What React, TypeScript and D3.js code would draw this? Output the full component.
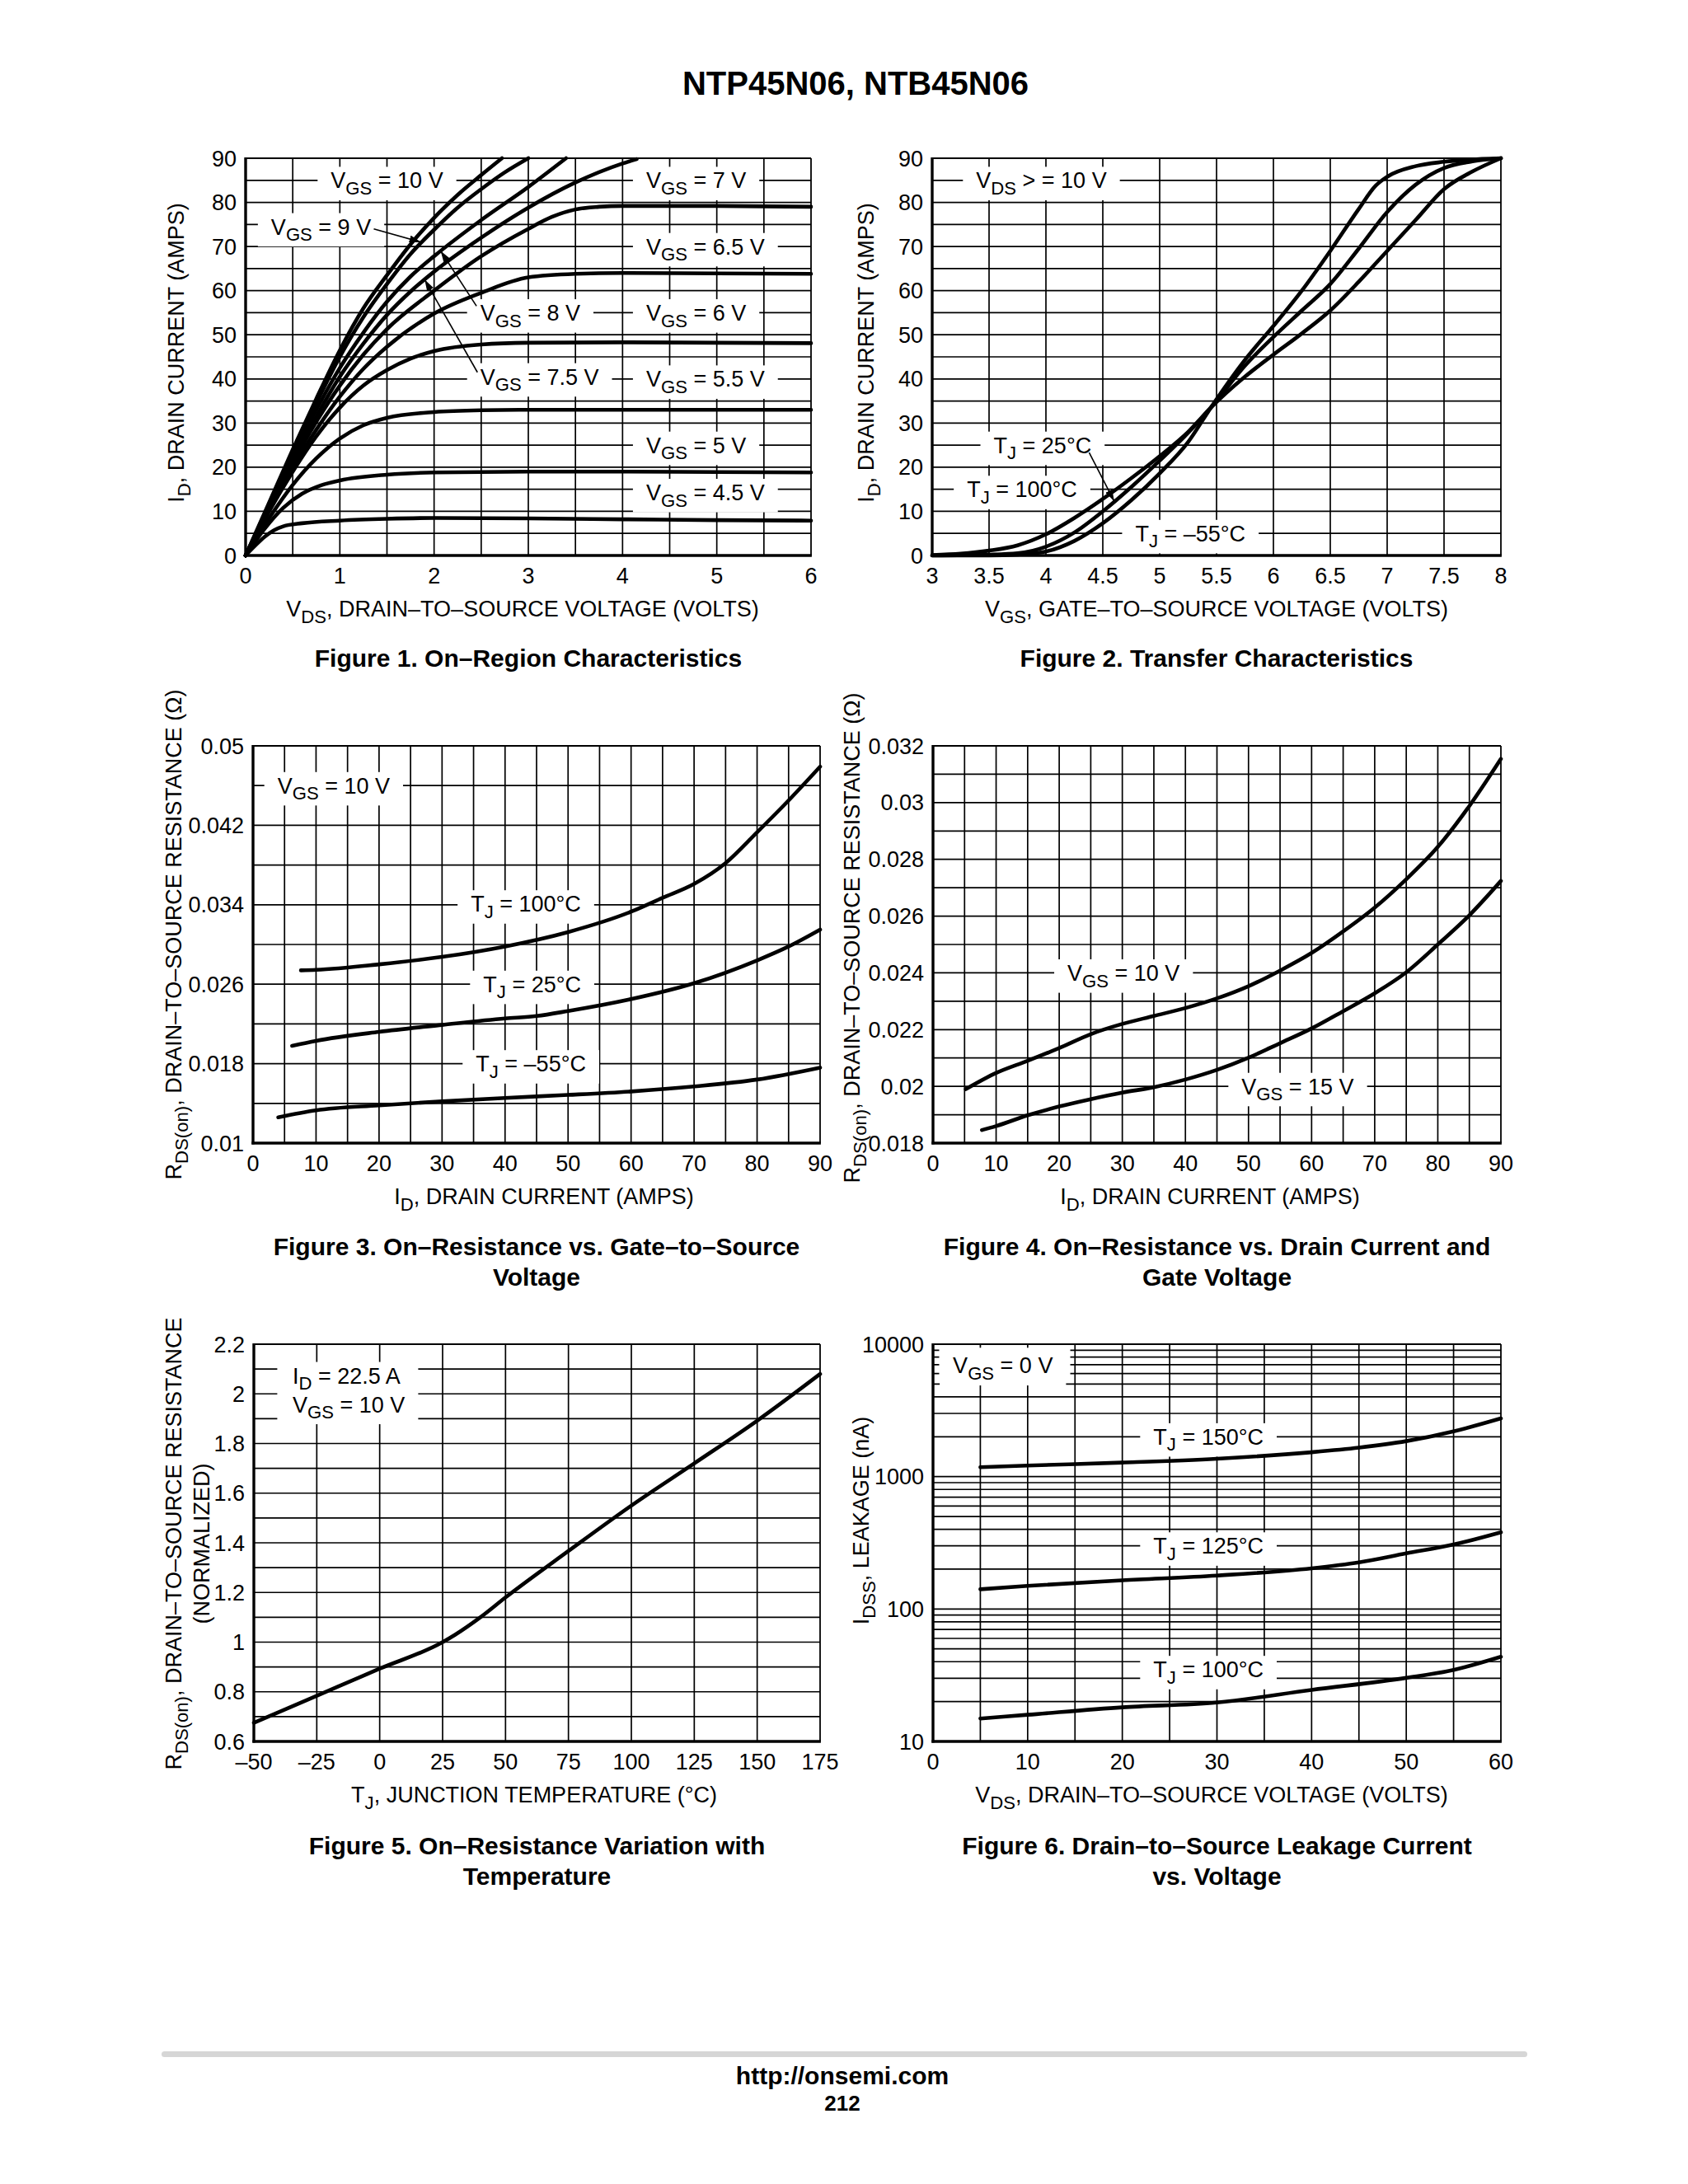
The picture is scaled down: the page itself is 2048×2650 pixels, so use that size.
import React, { useEffect, useRef } from 'react';
import * as d3 from 'd3';

type Pt = [number, number];

const FONT = "'Liberation Sans', Arial, Helvetica, sans-serif";
const FS = 27;

// ---------------- Figure 1: On-Region Characteristics ----------------
const fig1_10V: Pt[] = [[0,0],[0.25,12],[0.5,24],[0.75,35.5],[1,46.5],[1.25,56],[1.5,63.5],[1.75,70.5],[2,76.5],[2.25,81.7],[2.5,86.2],[2.72,90]];
const fig1_9V: Pt[] = [[0,0],[0.25,11.7],[0.5,23.3],[0.75,34.5],[1,45],[1.25,54],[1.5,61.5],[1.75,68.3],[2,73.8],[2.25,78.8],[2.5,83],[2.75,86.8],[3,90]];
const fig1_8V: Pt[] = [[0,0],[0.25,11.3],[0.5,22.5],[0.75,33],[1,42.5],[1.25,50.5],[1.5,57.5],[1.75,63.2],[2,67.8],[2.5,76],[3,83.5],[3.4,90]];
const fig1_75V: Pt[] = [[0,0],[0.25,11],[0.5,21.8],[0.75,31.5],[1,40.5],[1.25,48],[1.5,54.5],[1.75,59.8],[2,64.3],[2.5,72],[3,78.8],[3.5,84.5],[4,88.8],[4.15,89.8]];
const fig1_7V: Pt[] = [[0,0],[0.25,10.7],[0.5,21],[0.75,30.3],[1,38.5],[1.25,45.5],[1.5,51.3],[2,60],[2.5,67.8],[3,74],[3.25,76.7],[3.5,78.4],[3.75,79],[4,79.2],[5,79.2],[6,79]];
const fig1_65V: Pt[] = [[0,0],[0.25,10.2],[0.5,20],[0.75,28.5],[1,36],[1.25,42.3],[1.5,47.3],[2,54.8],[2.5,59.5],[3,63],[3.5,63.8],[4,64],[5,63.9],[6,63.8]];
const fig1_6V: Pt[] = [[0,0],[0.25,10],[0.5,19],[0.75,27],[1,33.5],[1.25,38.5],[1.5,42],[1.75,44.6],[2,46.3],[2.5,47.8],[3,48.2],[4,48.3],[5,48.2],[6,48.1]];
const fig1_55V: Pt[] = [[0,0],[0.25,8.5],[0.5,16],[0.75,22],[1,26.5],[1.25,29.5],[1.5,31.2],[2,32.5],[2.5,32.9],[3,33],[6,33]];
const fig1_5V: Pt[] = [[0,0],[0.2,6],[0.4,10.8],[0.6,14],[0.8,15.9],[1,17],[1.5,18.3],[2,18.8],[3,19],[4,19],[5,18.9],[6,18.8]];
const fig1_45V: Pt[] = [[0,0],[0.1,2.2],[0.2,4.2],[0.3,5.7],[0.4,6.6],[0.6,7.3],[1,7.9],[1.5,8.3],[2,8.5],[3,8.4],[4,8.2],[5,8.0],[6,7.9]];
const fig1XTicks = [0, 1, 2, 3, 4, 5, 6];
const fig1YTicks = [0, 10, 20, 30, 40, 50, 60, 70, 80, 90];

// ---------------- Figure 2: Transfer Characteristics ----------------
const fig2_n55: Pt[] = [[3,0],[3.5,0],[3.75,0.2],[4,0.9],[4.25,3.3],[4.5,7.3],[4.75,12.5],[5,18.6],[5.25,25.7],[5.45,33.5],[5.75,44.3],[6,52],[6.25,60],[6.5,69],[6.75,78.5],[6.9,83.8],[7,85.8],[7.25,88.2],[7.5,89.2],[8,90]];
const fig2_25: Pt[] = [[3,0],[3.5,0.2],[3.75,0.5],[4,2],[4.25,5.2],[4.5,10],[4.75,15.5],[5,21.5],[5.25,27.8],[5.45,33.5],[5.75,43],[6,49.5],[6.25,55.5],[6.5,61.5],[6.75,69.5],[7,77.8],[7.25,84],[7.5,87.8],[7.75,89.3],[8,90]];
const fig2_100: Pt[] = [[3,0.1],[3.25,0.4],[3.5,1.1],[3.75,2.3],[4,4.8],[4.25,8.5],[4.5,12.8],[4.75,17.5],[5,22.5],[5.25,28],[5.45,33.5],[5.75,40.5],[6,45.5],[6.25,50.3],[6.5,55.5],[6.75,62],[7,69],[7.25,76],[7.5,83],[7.75,87],[8,90]];
const fig2XTicks = [3, 3.5, 4, 4.5, 5, 5.5, 6, 6.5, 7, 7.5, 8];
const fig2YTicks = [0, 10, 20, 30, 40, 50, 60, 70, 80, 90];

// ---------------- Figure 3: On-Resistance vs. Drain Current (temps) ----------------
const fig3_100: Pt[] = [[7.6,0.0274],[10,0.02745],[20,0.028],[30,0.02875],[40,0.0298],[50,0.03125],[60,0.0333],[65,0.0347],[70,0.0361],[75,0.0382],[80,0.0413],[85,0.0445],[90,0.0479]];
const fig3_25: Pt[] = [[6.2,0.0198],[10,0.0203],[20,0.0212],[30,0.0219],[40,0.02255],[45,0.0228],[50,0.0233],[60,0.0245],[70,0.0261],[80,0.0284],[85,0.0298],[90,0.0315]];
const fig3_n55: Pt[] = [[4,0.0126],[10,0.0133],[20,0.0138],[30,0.0142],[40,0.01455],[50,0.01485],[60,0.0152],[70,0.0157],[80,0.0164],[90,0.0176]];
const fig3XTicks = [0, 10, 20, 30, 40, 50, 60, 70, 80, 90];
const fig3YTicks = [0.01, 0.018, 0.026, 0.034, 0.042, 0.05];

// ---------------- Figure 4: On-Resistance vs. Drain Current and Gate Voltage ----------------
const fig4_10V: Pt[] = [[5.2,0.0199],[10,0.02047],[15,0.0209],[20,0.02135],[25,0.02184],[30,0.0222],[35,0.02248],[40,0.02276],[45,0.0231],[50,0.02353],[55,0.02408],[60,0.0247],[65,0.02546],[70,0.0263],[75,0.0273],[80,0.02844],[85,0.02988],[90,0.03154]];
const fig4_15V: Pt[] = [[7.75,0.01846],[10,0.0186],[15,0.01898],[20,0.01929],[25,0.01955],[30,0.01978],[35,0.01997],[40,0.02024],[45,0.02058],[50,0.02101],[55,0.02152],[60,0.02204],[65,0.02265],[70,0.02328],[75,0.02402],[80,0.025],[85,0.02603],[90,0.02724]];
const fig4XTicks = [0, 10, 20, 30, 40, 50, 60, 70, 80, 90];
const fig4YTicks = [0.018, 0.02, 0.022, 0.024, 0.026, 0.028, 0.03, 0.032];

// ---------------- Figure 5: On-Resistance vs. Temperature ----------------
const fig5_rds: Pt[] = [[-50,0.675],[-25,0.784],[0,0.893],[25,1.0],[30,1.03],[40,1.1],[50,1.18],[75,1.367],[100,1.55],[125,1.72],[150,1.892],[175,2.08]];
const fig5XTicks = [-50, -25, 0, 25, 50, 75, 100, 125, 150, 175];
const fig5YTicks = [0.6, 0.8, 1, 1.2, 1.4, 1.6, 1.8, 2, 2.2];

// ---------------- Figure 6: Drain-to-Source Leakage Current ----------------
const fig6_150: Pt[] = [[5,1178],[10,1212],[20,1276],[30,1365],[40,1528],[45,1655],[50,1853],[55,2198],[60,2754]];
const fig6_125: Pt[] = [[5,141],[10,149.5],[20,164.7],[30,179],[40,203],[45,225],[50,263],[55,307],[60,380]];
const fig6_100: Pt[] = [[5,14.9],[10,15.9],[20,18.1],[30,19.7],[40,24.5],[50,30.2],[55,34.7],[60,43.6]];
const fig6XTicks = [0, 10, 20, 30, 40, 50, 60];
const fig6YTicks = [10, 100, 1000, 10000];

// ---------------- annotations (data coordinates) ----------------
type Lbl = { x: number; y: number; t: string; a?: 'start' | 'middle' | 'end' };
const fig1Labels: Lbl[] = [
  { x: 1.5, y: 85, t: 'V_{GS} = 10 V' },
  { x: 0.27, y: 74.5, t: 'V_{GS} = 9 V', a: 'start' },
  { x: 4.25, y: 85, t: 'V_{GS} = 7 V', a: 'start' },
  { x: 4.25, y: 70, t: 'V_{GS} = 6.5 V', a: 'start' },
  { x: 2.49, y: 55, t: 'V_{GS} = 8 V', a: 'start' },
  { x: 4.25, y: 55, t: 'V_{GS} = 6 V', a: 'start' },
  { x: 2.49, y: 40.5, t: 'V_{GS} = 7.5 V', a: 'start' },
  { x: 4.25, y: 40, t: 'V_{GS} = 5.5 V', a: 'start' },
  { x: 4.25, y: 25, t: 'V_{GS} = 5 V', a: 'start' },
  { x: 4.25, y: 14.3, t: 'V_{GS} = 4.5 V', a: 'start' },
];
const fig1Arrows: { f: Pt; to: Pt }[] = [
  { f: [1.36, 74], to: [1.86, 71] },
  { f: [2.45, 56.5], to: [2.07, 69] },
  { f: [2.46, 41.5], to: [1.9, 62.5] },
];
const fig2Labels: Lbl[] = [
  { x: 3.96, y: 85, t: 'V_{DS} > = 10 V' },
  { x: 3.97, y: 25, t: 'T_{J} = 25°C' },
  { x: 3.79, y: 15, t: 'T_{J} = 100°C' },
  { x: 5.27, y: 5, t: 'T_{J} = –55°C' },
];
const fig2Arrows: { f: Pt; to: Pt }[] = [{ f: [4.38, 23.3], to: [4.6, 12.3] }];
const fig3Labels: Lbl[] = [
  { x: 12.8, y: 0.046, t: 'V_{GS} = 10 V' },
  { x: 43.3, y: 0.0341, t: 'T_{J} = 100°C' },
  { x: 44.3, y: 0.026, t: 'T_{J} = 25°C' },
  { x: 44.1, y: 0.018, t: 'T_{J} = –55°C' },
];
const fig4Labels: Lbl[] = [
  { x: 30.2, y: 0.024, t: 'V_{GS} = 10 V' },
  { x: 57.8, y: 0.02, t: 'V_{GS} = 15 V' },
];
const fig5Labels: Lbl[] = [
  { x: -34.6, y: 2.074, t: 'I_{D} = 22.5 A', a: 'start' },
  { x: -34.6, y: 1.958, t: 'V_{GS} = 10 V', a: 'start' },
];
const fig6Labels: Lbl[] = [
  { x: 2.1, y: 6900, t: 'V_{GS} = 0 V', a: 'start' },
  { x: 29.1, y: 2000, t: 'T_{J} = 150°C' },
  { x: 29.1, y: 300, t: 'T_{J} = 125°C' },
  { x: 29.1, y: 35, t: 'T_{J} = 100°C' },
];

function rich(text: any, markup: string, fs: number) {
  const parts = markup.split(/(_\{[^}]*\})/).filter((s) => s.length);
  let shifted = false;
  const sh = fs * 0.28;
  parts.forEach((p) => {
    const m = p.match(/^_\{([^}]*)\}$/);
    if (m) {
      text.append('tspan').attr('font-size', fs * 0.82).attr('dy', shifted ? 0 : sh).text(m[1]);
      shifted = true;
    } else {
      text.append('tspan').attr('dy', shifted ? -sh : 0).text(p);
      shifted = false;
    }
  });
}

interface Cfg {
  x: any; y: any;
  xGrid: number[]; yGrid: number[];
  xTicks: number[]; yTicks: number[];
  xFmt: (v: number) => string; yFmt: (v: number) => string;
  curves: Pt[][];
  labels: Lbl[];
  arrows?: { f: Pt; to: Pt }[];
  boxes?: { x0: number; x1: number; y0: number; y1: number }[];
  labelPad?: number;
  xTitle: string; xTitleX: number;
  yTitles: { t: string; x: number }[]; yTitleCy: number;
  caption: string[]; captionY: number[];
}

function drawPanel(root: any, c: Cfg) {
  const g = root.append('g');
  const [L, R] = c.x.range();
  const [B, T] = c.y.range();
  const gGrid = g.append('g').attr('stroke', '#000').attr('stroke-width', 1.7);
  gGrid.selectAll('line.v').data(c.xGrid).join('line').attr('class', 'v')
    .attr('x1', (d: number) => c.x(d)).attr('x2', (d: number) => c.x(d)).attr('y1', B).attr('y2', T);
  gGrid.selectAll('line.h').data(c.yGrid).join('line').attr('class', 'h')
    .attr('y1', (d: number) => c.y(d)).attr('y2', (d: number) => c.y(d)).attr('x1', L).attr('x2', R);
  const gBox = g.append('g');
  const gFrame = g.append('g').attr('stroke', '#000');
  const gCurve = g.append('g');
  const gText = g.append('g').attr('font-family', FONT).attr('font-size', FS).attr('fill', '#000');

  (c.boxes || []).forEach((b) => {
    const x0 = c.x(b.x0), x1 = c.x(b.x1), y0 = c.y(b.y0), y1 = c.y(b.y1);
    gBox.append('rect').attr('x', Math.min(x0, x1)).attr('y', Math.min(y0, y1))
      .attr('width', Math.abs(x1 - x0)).attr('height', Math.abs(y1 - y0)).attr('fill', '#fff');
  });

  gFrame.append('line').attr('x1', L).attr('x2', R).attr('y1', T).attr('y2', T).attr('stroke-width', 1.8);
  gFrame.append('line').attr('x1', R).attr('x2', R).attr('y1', T).attr('y2', B).attr('stroke-width', 1.8);
  gFrame.append('line').attr('x1', L).attr('x2', L).attr('y1', T - 0.9).attr('y2', B + 1.6).attr('stroke-width', 3.4);
  gFrame.append('line').attr('x1', L - 1.7).attr('x2', R + 0.9).attr('y1', B).attr('y2', B).attr('stroke-width', 3.4);

  const line = d3.line<Pt>().x((d) => c.x(d[0])).y((d) => c.y(d[1])).curve(d3.curveMonotoneX);
  gCurve.selectAll('path').data(c.curves).join('path').attr('d', (d: Pt[]) => line(d))
    .attr('fill', 'none').attr('stroke', '#000').attr('stroke-width', 4.6)
    .attr('stroke-linejoin', 'round').attr('stroke-linecap', 'round');

  const pad = c.labelPad ?? 16;
  c.labels.forEach((l) => {
    const t = gText.append('text').attr('x', c.x(l.x)).attr('y', c.y(l.y) + 9.6)
      .attr('text-anchor', l.a || 'middle');
    rich(t, l.t, FS);
    const bb = (t.node() as SVGTextElement).getBBox();
    gBox.append('rect').attr('x', bb.x - pad).attr('y', bb.y - 2)
      .attr('width', bb.width + 2 * pad).attr('height', bb.height + 4).attr('fill', '#fff');
  });

  (c.arrows || []).forEach((a) => {
    gText.append('line').attr('x1', c.x(a.f[0])).attr('y1', c.y(a.f[1]))
      .attr('x2', c.x(a.to[0])).attr('y2', c.y(a.to[1]))
      .attr('stroke', '#000').attr('stroke-width', 1.6).attr('marker-end', 'url(#arrow)');
  });

  c.yTicks.forEach((v) => {
    gText.append('text').attr('x', L - 11).attr('y', c.y(v) + 9.6).attr('text-anchor', 'end').text(c.yFmt(v));
  });
  c.xTicks.forEach((v) => {
    gText.append('text').attr('x', c.x(v)).attr('y', B + 34).attr('text-anchor', 'middle').text(c.xFmt(v));
  });

  const xt = gText.append('text').attr('x', c.xTitleX).attr('y', B + 74).attr('text-anchor', 'middle');
  rich(xt, c.xTitle, FS);
  c.yTitles.forEach((yt) => {
    const t = gText.append('text').attr('text-anchor', 'middle')
      .attr('transform', `translate(${yt.x},${c.yTitleCy}) rotate(-90)`);
    rich(t, yt.t, FS);
  });

  const cx = (L + R) / 2;
  c.caption.forEach((s, i) => {
    gText.append('text').attr('x', cx).attr('y', c.captionY[i]).attr('text-anchor', 'middle')
      .attr('font-weight', 'bold').attr('font-size', 30).text(s);
  });
}

const num = (v: number) => String(v);
const dash = (v: number) => (v < 0 ? '–' + String(-v) : String(v));

function drawAll(svgEl: SVGSVGElement) {
  const svg = d3.select(svgEl);
  svg.selectAll('*').remove();
  svg.append('rect').attr('width', 2048).attr('height', 2650).attr('fill', '#fff');
  svg.append('defs').append('marker').attr('id', 'arrow').attr('viewBox', '0 0 14 9')
    .attr('refX', 14).attr('refY', 4.5).attr('markerWidth', 14).attr('markerHeight', 9)
    .attr('markerUnits', 'userSpaceOnUse').attr('orient', 'auto')
    .append('path').attr('d', 'M0,0 L14,4.5 L0,9 Z').attr('fill', '#000');

  svg.append('text').attr('x', 1038).attr('y', 115).attr('text-anchor', 'middle')
    .attr('font-family', FONT).attr('font-weight', 'bold').attr('font-size', 40)
    .text('NTP45N06, NTB45N06');

  // Figure 1
  drawPanel(svg, {
    x: d3.scaleLinear().domain([0, 6]).range([298, 984]),
    y: d3.scaleLinear().domain([0, 90]).range([674, 192]),
    xGrid: d3.range(0.5, 6, 0.5), yGrid: d3.range(5, 90, 5),
    xTicks: fig1XTicks, yTicks: fig1YTicks, xFmt: num, yFmt: num,
    curves: [fig1_10V, fig1_9V, fig1_8V, fig1_75V, fig1_7V, fig1_65V, fig1_6V, fig1_55V, fig1_5V, fig1_45V],
    labels: fig1Labels, arrows: fig1Arrows,
    xTitle: 'V_{DS}, DRAIN–TO–SOURCE VOLTAGE (VOLTS)', xTitleX: 634,
    yTitles: [{ t: 'I_{D}, DRAIN CURRENT (AMPS)', x: 223 }], yTitleCy: 428,
    caption: ['Figure 1. On–Region Characteristics'], captionY: [809],
  });

  // Figure 2
  drawPanel(svg, {
    x: d3.scaleLinear().domain([3, 8]).range([1131, 1821]),
    y: d3.scaleLinear().domain([0, 90]).range([674, 192]),
    xGrid: d3.range(3.5, 8, 0.5), yGrid: d3.range(5, 90, 5),
    xTicks: fig2XTicks, yTicks: fig2YTicks, xFmt: num, yFmt: num,
    curves: [fig2_n55, fig2_25, fig2_100],
    labels: fig2Labels, arrows: fig2Arrows,
    xTitle: 'V_{GS}, GATE–TO–SOURCE VOLTAGE (VOLTS)', xTitleX: 1476,
    yTitles: [{ t: 'I_{D}, DRAIN CURRENT (AMPS)', x: 1060 }], yTitleCy: 428,
    caption: ['Figure 2. Transfer Characteristics'], captionY: [809],
  });

  // Figure 3
  drawPanel(svg, {
    x: d3.scaleLinear().domain([0, 90]).range([307, 995]),
    y: d3.scaleLinear().domain([0.01, 0.05]).range([1387, 905]),
    xGrid: d3.range(5, 90, 5), yGrid: d3.range(1, 10).map((i) => 0.01 + i * 0.004),
    xTicks: fig3XTicks, yTicks: fig3YTicks, xFmt: num, yFmt: num,
    curves: [fig3_100, fig3_25, fig3_n55],
    labels: fig3Labels,
    xTitle: 'I_{D}, DRAIN CURRENT (AMPS)', xTitleX: 660,
    yTitles: [{ t: 'R_{DS(on)}, DRAIN–TO–SOURCE RESISTANCE (Ω)', x: 220 }], yTitleCy: 1134,
    caption: ['Figure 3. On–Resistance vs. Gate–to–Source', 'Voltage'], captionY: [1523, 1560],
  });

  // Figure 4
  drawPanel(svg, {
    x: d3.scaleLinear().domain([0, 90]).range([1132, 1821]),
    y: d3.scaleLinear().domain([0.018, 0.032]).range([1387, 905]),
    xGrid: d3.range(5, 90, 5), yGrid: d3.range(1, 14).map((i) => 0.018 + i * 0.001),
    xTicks: fig4XTicks, yTicks: fig4YTicks, xFmt: num, yFmt: num,
    curves: [fig4_10V, fig4_15V],
    labels: fig4Labels,
    xTitle: 'I_{D}, DRAIN CURRENT (AMPS)', xTitleX: 1468,
    yTitles: [{ t: 'R_{DS(on)}, DRAIN–TO–SOURCE RESISTANCE (Ω)', x: 1043 }], yTitleCy: 1138,
    caption: ['Figure 4. On–Resistance vs. Drain Current and', 'Gate Voltage'], captionY: [1523, 1560],
  });

  // Figure 5
  drawPanel(svg, {
    x: d3.scaleLinear().domain([-50, 175]).range([308, 995]),
    y: d3.scaleLinear().domain([0.6, 2.2]).range([2113, 1631]),
    xGrid: d3.range(-25, 175, 25), yGrid: d3.range(1, 16).map((i) => 0.6 + i * 0.1),
    xTicks: fig5XTicks, yTicks: fig5YTicks, xFmt: dash, yFmt: num,
    curves: [fig5_rds],
    labels: fig5Labels, labelPad: 0,
    boxes: [{ x0: -40.7, x1: 15.3, y0: 2.118, y1: 1.882 }],
    xTitle: 'T_{J}, JUNCTION TEMPERATURE (°C)', xTitleX: 648,
    yTitles: [
      { t: 'R_{DS(on)}, DRAIN–TO–SOURCE RESISTANCE', x: 220 },
      { t: '(NORMALIZED)', x: 254 },
    ], yTitleCy: 1873,
    caption: ['Figure 5. On–Resistance Variation with', 'Temperature'], captionY: [2250, 2287],
  });

  // Figure 6
  const logGrid: number[] = [];
  [10, 100, 1000].forEach((d) => { for (let k = 1; k < 10; k++) if (d * k > 10) logGrid.push(d * k); });
  drawPanel(svg, {
    x: d3.scaleLinear().domain([0, 60]).range([1132, 1821]),
    y: d3.scaleLog().domain([10, 10000]).range([2113, 1631]),
    xGrid: d3.range(5, 60, 5), yGrid: logGrid,
    xTicks: fig6XTicks, yTicks: fig6YTicks, xFmt: num, yFmt: num,
    curves: [fig6_150, fig6_125, fig6_100],
    labels: fig6Labels,
    boxes: [{ x0: 0.65, x1: 14.5, y0: 9400, y1: 5300 }],
    xTitle: 'V_{DS}, DRAIN–TO–SOURCE VOLTAGE (VOLTS)', xTitleX: 1470,
    yTitles: [{ t: 'I_{DSS}, LEAKAGE (nA)', x: 1054 }], yTitleCy: 1845,
    caption: ['Figure 6. Drain–to–Source Leakage Current', 'vs. Voltage'], captionY: [2250, 2287],
  });

  // footer
  svg.append('rect').attr('x', 196).attr('y', 2489).attr('width', 1657).attr('height', 7)
    .attr('rx', 3.5).attr('fill', '#d6d6d6');
  svg.append('text').attr('x', 1022).attr('y', 2529).attr('text-anchor', 'middle')
    .attr('font-family', FONT).attr('font-weight', 'bold').attr('font-size', 30).text('http://onsemi.com');
  svg.append('text').attr('x', 1022).attr('y', 2561).attr('text-anchor', 'middle')
    .attr('font-family', FONT).attr('font-weight', 'bold').attr('font-size', 26).text('212');
}

export default function App() {
  const ref = useRef<SVGSVGElement>(null);
  useEffect(() => {
    document.body.style.margin = '0';
    if (ref.current) drawAll(ref.current);
  }, []);
  return (
    <svg ref={ref} width={2048} height={2650}
      style={{ position: 'absolute', left: 0, top: 0, background: '#fff', display: 'block' }} />
  );
}
